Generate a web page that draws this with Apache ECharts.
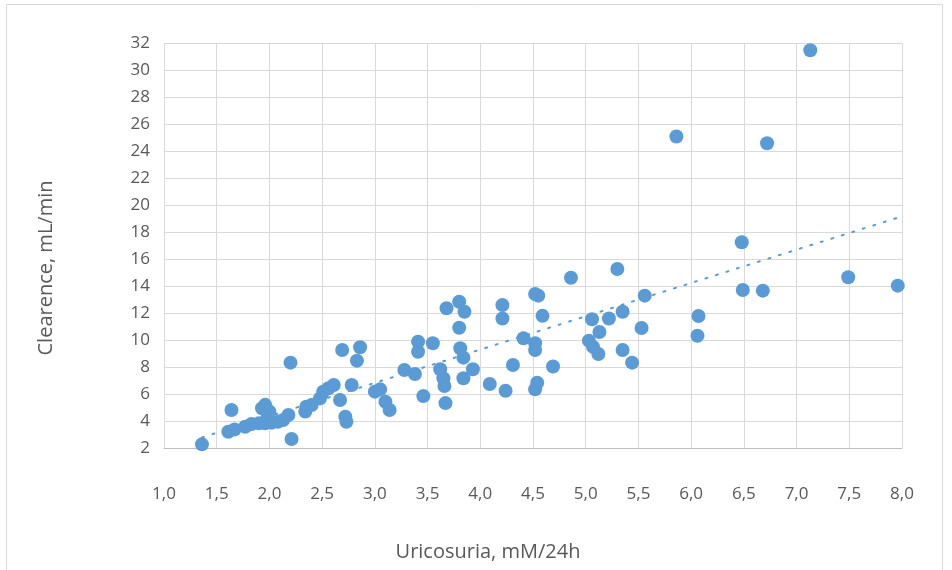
<!DOCTYPE html>
<html><head><meta charset="utf-8">
<script src="https://cdn.jsdelivr.net/npm/echarts@6/dist/echarts.min.js"></script>
<style>html,body{margin:0;padding:0;background:#fff}#c{width:952px;height:570px}</style>
</head><body><div id="c"></div>
<script>
// Uricosuria (mM/24h)
const xValues = [1.36,1.64,1.61,1.67,1.77,1.83,1.90,1.96,2.02,2.08,2.13,1.96,1.93,2.00,1.98,2.20,2.21,2.18,2.35,2.34,2.40,2.48,2.51,2.56,2.61,2.69,2.86,2.83,2.78,2.67,2.72,2.73,3.00,3.05,3.10,3.14,3.28,3.38,3.41,3.41,3.55,3.46,3.68,3.80,3.85,3.80,3.81,3.84,3.62,3.65,3.66,3.84,3.93,3.67,4.09,4.21,4.21,4.24,4.31,4.41,4.52,4.55,4.52,4.52,4.54,4.52,4.59,4.69,4.86,5.03,5.07,5.12,5.06,5.13,5.22,5.30,5.35,5.35,5.44,5.53,5.56,5.86,6.06,6.07,6.48,6.49,6.68,6.72,7.13,7.49,7.96];
// Clearence (mL/min)
const yValues = [2.27,4.82,3.2,3.38,3.58,3.78,3.83,3.83,3.88,3.95,4.08,5.2,4.95,4.7,4.2,8.33,2.67,4.45,5.06,4.7,5.19,5.68,6.18,6.43,6.67,9.27,9.47,8.48,6.67,5.56,4.32,3.95,6.18,6.35,5.43,4.82,7.79,7.49,9.88,9.14,9.77,5.85,12.36,12.85,12.11,10.92,9.4,8.7,7.84,7.17,6.6,7.17,7.84,5.33,6.75,12.6,11.6,6.25,8.16,10.14,13.42,13.3,9.77,9.27,6.84,6.35,11.8,8.05,14.63,9.96,9.5,8.97,11.55,10.6,11.6,15.28,12.1,9.27,8.33,10.9,13.3,25.1,10.33,11.79,17.26,13.72,13.67,24.6,31.5,14.66,14.04];
// Linear trendline endpoints
const trendX = [1.36, 7.96];
const trendY = [2.78, 19.08];
const xTitle = 'Uricosuria, mM/24h';
const yTitle = 'Clearence, mL/min';

const pts = xValues.map((x,i)=>[x,yValues[i]]);
const trend = trendX.map((x,i)=>[x,trendY[i]]);
const font = '"Open Sans", "Liberation Sans", sans-serif';
const chart = echarts.init(document.getElementById('c'), null, {renderer:'canvas'});
chart.setOption({
  animation:false,
  backgroundColor:'#fff',
  textStyle:{fontFamily:font},
  graphic:[
    {type:'rect', shape:{x:6.5,y:4.5,width:936,height:600}, style:{fill:'none',stroke:'#d9d9d9',lineWidth:1}, z:-1},
    {type:'text', x:488, y:552, style:{text:xTitle, align:'center', verticalAlign:'middle', font:'20px '+font, fill:'#595959'}},
    {type:'text', rotation:Math.PI/2, x:46, y:268, style:{text:yTitle, align:'center', verticalAlign:'middle', font:'20px '+font, fill:'#595959'}}
  ],
  grid:{left:164, right:50, top:43.5, bottom:122, containLabel:false},
  xAxis:{type:'value', min:1, max:8, interval:0.5,
    axisLine:{show:true, onZero:false, lineStyle:{color:'#bfbfbf', width:1}},
    axisTick:{show:false},
    splitLine:{show:true, lineStyle:{color:'#d9d9d9', width:1}},
    axisLabel:{color:'#595959', fontSize:17, margin:38, formatter:v=>v.toFixed(1).replace('.',',')}
  },
  yAxis:{type:'value', min:2, max:32, interval:2,
    axisLine:{show:true, lineStyle:{color:'#d9d9d9', width:1}},
    axisTick:{show:false},
    splitLine:{show:true, lineStyle:{color:'#d9d9d9', width:1}},
    axisLabel:{color:'#595959', fontSize:17, margin:14}
  },
  series:[
    {type:'scatter', data:pts, symbol:'circle', symbolSize:14, itemStyle:{color:'#5b9bd5', opacity:1}},
    {type:'line', data:trend, symbol:'none', silent:true,
      lineStyle:{color:'#5b9bd5', width:2, type:[2,9], cap:'round'}}
  ]
});
</script></body></html>
